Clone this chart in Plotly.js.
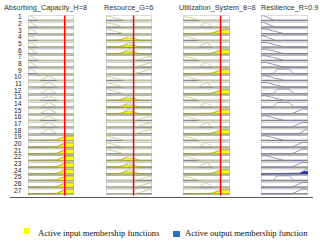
<!DOCTYPE html>
<html><head><meta charset="utf-8">
<script src="https://cdn.plot.ly/plotly-3.0.1.min.js"></script>
<style>html,body{margin:0;padding:0;background:#fff;}#chart{width:320px;height:241px;}</style>
</head><body><div id="chart"></div>
<script>
// ---- chart data ----
const ruleNo = [1,2,3,4,5,6,7,8,9,10,11,12,13,14,15,16,17,18,19,20,21,22,23,24,25,26,27];
const columnTitles = ['Absorbing_Capacity_H=8','Resource_G=6','Utilization_System_θ=8','Resilience_R=0.9'];
const inputValues = [8, 6, 8];
// membership-function index used by each rule (0 = low, 1 = medium, 2 = high)
const in1Mf = [0,0,0,0,0,0,0,0,0,1,1,1,1,1,1,1,1,1,2,2,2,2,2,2,2,2,2];
const in2Mf = [0,0,0,1,1,1,2,2,2,0,0,0,1,1,1,2,2,2,0,0,0,1,1,1,2,2,2];
const in3Mf = [0,1,2,0,1,2,0,1,2,0,1,2,0,1,2,0,1,2,0,1,2,0,1,2,0,1,2];
// output MF (0 = very low, 1 = low, 2 = medium, 3 = high, 4 = very high)
const outMf = [0,0,1,0,1,1,1,1,2,1,1,2,1,2,3,1,3,4,1,3,3,1,3,4,2,3,3];
// membership function breakpoints
const absorbMfX = [[0,0.5,2.2,10],[0,2.5,4.5,6.5,10],[0,6,8.2,10]];
const absorbMfY = [[1,1,0,0],[0,0,1,0,0],[0,0,1,1]];
const resourceMfX = [[0,4,10],[0,3,5,7,10],[0,6.1,10]];
const resourceMfY = [[1,0,0],[0,0,1,0,0],[0,0,1]];
const utilMfX = [[0,3.6,10],[0,3.2,5,6.4,10],[0,5.7,8.5,10]];
const utilMfY = [[1,0,0],[0,0,1,0,0],[0,0,1,1]];
const resilMfX = [[0,0.05,0.3,1],[0,0.1,0.5,1],[0,0.25,0.35,0.6,0.7,1],[0,0.65,0.88,1],[0,0.8,0.97,1]];
const resilMfY = [[1,1,0,0],[1,1,0,0],[0,0,1,1,0,0],[0,0,1,1],[0,0,1,1]];

// ---- helpers ----
function interp(xs, ys, x){
  for(let k=0;k<xs.length-1;k++){
    if(x>=xs[k] && x<=xs[k+1]){
      const d = xs[k+1]-xs[k];
      return d===0 ? Math.max(ys[k],ys[k+1]) : ys[k]+(ys[k+1]-ys[k])*(x-xs[k])/d;
    }
  }
  return 0;
}
const BOX_H = 0.75, MF_H = 0.7;
const yOf = (i, m) => i + BOX_H - MF_H*m;

const inputs = [
  {mfx: absorbMfX, mfy: absorbMfY, idx: in1Mf, range: 10},
  {mfx: resourceMfX, mfy: resourceMfY, idx: in2Mf, range: 10},
  {mfx: utilMfX, mfy: utilMfY, idx: in3Mf, range: 10}
];
const axX = ['x','x2','x3','x4'];
const traces = [];
const shapes = [];
const annotations = [];

const degrees = inputs.map((inp, c) => ruleNo.map((r, i) =>
  interp(inp.mfx[inp.idx[i]], inp.mfy[inp.idx[i]], inputValues[c])));
const firing = ruleNo.map((r,i) => Math.min(degrees[0][i], degrees[1][i], degrees[2][i]));

function clipPoly(xs, ys, level, range, i){
  const px = [], py = [];
  const n = 160;
  for(let s=0;s<=n;s++){
    const x = range*s/n;
    px.push(x); py.push(yOf(i, Math.min(interp(xs,ys,x), level)));
  }
  px.push(range, 0); py.push(yOf(i,0), yOf(i,0));
  return [px, py];
}

// boxes
for(let c=0;c<4;c++){
  const range = c<3 ? 10 : 1;
  ruleNo.forEach((r,i)=>{
    shapes.push({type:'rect', xref:axX[c], yref:'y', x0:0, x1:range, y0:i, y1:i+BOX_H,
      line:{color:'#b4b4b4', width:1}, fillcolor:'#ffffff', layer:'below'});
    shapes.push({type:'line', xref:axX[c], yref:'y', x0:0, x1:range, y0:i+BOX_H, y1:i+BOX_H,
      line:{color:'#858585', width:1.3}, layer:'below'});
  });
}

// input columns
inputs.forEach((inp, c) => {
  const lx = [], ly = [], fx = [], fy = [], ax = [], ay = [];
  ruleNo.forEach((r, i) => {
    const xs = inp.mfx[inp.idx[i]], ys = inp.mfy[inp.idx[i]];
    const mu = degrees[c][i];
    if(mu > 0){
      const [px, py] = clipPoly(xs, ys, mu, inp.range, i);
      fx.push(...px, null); fy.push(...py, null);
      xs.forEach((x,k)=>{ ax.push(x); ay.push(yOf(i, ys[k])); }); ax.push(null); ay.push(null);
    } else {
      xs.forEach((x,k)=>{ lx.push(x); ly.push(yOf(i, ys[k])); }); lx.push(null); ly.push(null);
    }
  });
  traces.push({x:lx, y:ly, xaxis:axX[c], yaxis:'y', mode:'lines', line:{color:'#c8cd8e', width:0.9}, hoverinfo:'skip', showlegend:false});
  traces.push({x:fx, y:fy, xaxis:axX[c], yaxis:'y', mode:'lines', fill:'toself', fillcolor:'#ffff00', line:{color:'#9a9a40', width:0.6}, hoverinfo:'skip', showlegend:false});
  traces.push({x:ax, y:ay, xaxis:axX[c], yaxis:'y', mode:'lines', line:{color:'#a8a860', width:0.6}, hoverinfo:'skip', showlegend:false});
  traces.push({x:[inputValues[c], inputValues[c]], y:[-0.3, 27.25], xaxis:axX[c], yaxis:'y', mode:'lines', line:{color:'#ff0000', width:1.5}, hoverinfo:'skip', showlegend:false});
});

// output column
{
  const lx = [], ly = [], fx = [], fy = [];
  ruleNo.forEach((r, i) => {
    const xs = resilMfX[outMf[i]], ys = resilMfY[outMf[i]];
    xs.forEach((x,k)=>{ lx.push(x); ly.push(yOf(i, ys[k])); }); lx.push(null); ly.push(null);
    if(firing[i] > 0){
      const [px, py] = clipPoly(xs, ys, firing[i], 1, i);
      fx.push(...px, null); fy.push(...py, null);
    }
  });
  traces.push({x:fx, y:fy, xaxis:'x4', yaxis:'y', mode:'lines', fill:'toself', fillcolor:'#2233b0', line:{color:'#1a2390', width:0.6}, hoverinfo:'skip', showlegend:false});
  traces.push({x:lx, y:ly, xaxis:'x4', yaxis:'y', mode:'lines', line:{color:'#7a80aa', width:0.8}, hoverinfo:'skip', showlegend:false});
}

// row labels
ruleNo.forEach((r,i)=>{
  annotations.push({text:String(r), xref:'paper', yref:'y', x:22.5/320, y:i+0.2, xanchor:'right', yanchor:'middle',
    showarrow:false, borderpad:0, font:{family:'Liberation Sans, Arial, sans-serif', size:6.6, color:'#222'}});
});
// column titles
const titleCenters = [45.5, 128.5, 216.5, 289];
columnTitles.forEach((t,c)=>{
  annotations.push({text:t, xref:'paper', yref:'paper', x:titleCenters[c]/320, y:1-7/241, xanchor:'center', yanchor:'middle',
    showarrow:false, font:{family:'Liberation Sans, Arial, sans-serif', size:7.3, color:'#333'}});
});
// legend texts
annotations.push({text:'Active input membership functions', xref:'paper', yref:'paper', x:36/320, y:1-232.5/241, xanchor:'left', yanchor:'middle',
  showarrow:false, font:{family:'Liberation Serif, Times New Roman, serif', size:8.6, color:'#111'}});
annotations.push({text:'Active output membership function', xref:'paper', yref:'paper', x:183/320, y:1-232.5/241, xanchor:'left', yanchor:'middle',
  showarrow:false, font:{family:'Liberation Serif, Times New Roman, serif', size:8.6, color:'#111'}});
shapes.push({type:'rect', xref:'paper', yref:'paper', x0:24/320, x1:30/320, y0:1-234/241, y1:1-228/241, fillcolor:'#ffff00', line:{width:0}});
shapes.push({type:'rect', xref:'paper', yref:'paper', x0:173/320, x1:180/320, y0:1-237/241, y1:1-231/241, fillcolor:'#2a6fc0', line:{width:0}});
// baseline
shapes.push({type:'line', xref:'paper', yref:'paper', x0:10/320, x1:313/320, y0:1-197.5/241, y1:1-197.5/241, line:{color:'#555', width:1.2}});

const hidden = {visible:false, fixedrange:true};
const layout = {
  width:320, height:241, margin:{l:0,r:0,t:0,b:0},
  paper_bgcolor:'#fff', plot_bgcolor:'rgba(0,0,0,0)', showlegend:false,
  xaxis: Object.assign({domain:[28/320, 74/320], range:[0,10], anchor:'y'}, hidden),
  xaxis2: Object.assign({domain:[106/320, 152/320], range:[0,10], anchor:'y'}, hidden),
  xaxis3: Object.assign({domain:[183/320, 230/320], range:[0,10], anchor:'y'}, hidden),
  xaxis4: Object.assign({domain:[261/320, 308/320], range:[0,1], anchor:'y'}, hidden),
  yaxis: Object.assign({domain:[1-195.5/241, 1-15.4/241], range:[27,0]}, hidden),
  shapes: shapes, annotations: annotations
};
Plotly.newPlot('chart', traces, layout, {staticPlot:true, displayModeBar:false});
</script></body></html>
